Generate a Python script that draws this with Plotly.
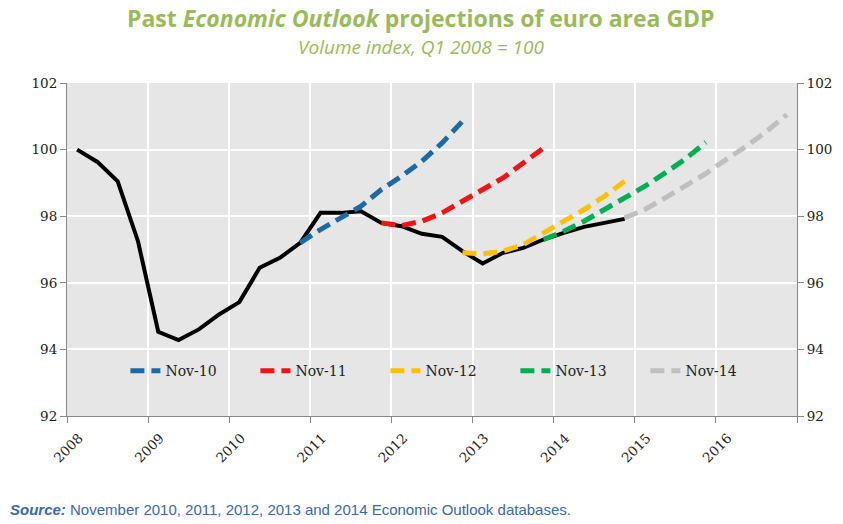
import plotly.graph_objects as go

# Quarterly positions: Q1 2008 ... Q4 2016 (plotted at mid-quarter)
quarters = [f"{y}Q{q}" for y in range(2008, 2017) for q in range(1, 5)]

def qpos(label):
    y, q = label.split("Q")
    return int(y) + (int(q) - 0.5) / 4

# Actual euro area GDP (Q1 2008 = 100), Q1 2008 .. Q4 2014
actual = [100.0, 99.63, 99.05, 97.25,
          94.53, 94.28, 94.6, 95.05,
          95.42, 96.45, 96.75, 97.2,
          98.1, 98.1, 98.15, 97.8,
          97.7, 97.47, 97.38, 96.95,
          96.58, 96.9, 97.05, 97.3,
          97.5, 97.68, 97.8, 97.92]

# Projections: start quarter and values
nov10_start, nov10 = "2010Q4", [97.2, 97.6, 97.95, 98.3, 98.8, 99.2, 99.65, 100.2, 100.85]
nov11_start, nov11 = "2011Q4", [97.8, 97.72, 97.85, 98.1, 98.45, 98.8, 99.15, 99.6, 100.05]
nov12_start, nov12 = "2012Q4", [96.9, 96.87, 96.95, 97.15, 97.5, 97.85, 98.2, 98.6, 99.05]
nov13_start, nov13 = "2013Q4", [97.3, 97.55, 97.85, 98.2, 98.55, 98.9, 99.3, 99.72, 100.22]
nov14_start, nov14 = "2014Q4", [97.95, 98.2, 98.55, 98.92, 99.28, 99.7, 100.1, 100.55, 101.05]

series = [
    ("Nov-10", nov10_start, nov10, "#1A6AA6"),
    ("Nov-11", nov11_start, nov11, "#F01414"),
    ("Nov-12", nov12_start, nov12, "#FFC000"),
    ("Nov-13", nov13_start, nov13, "#00B050"),
    ("Nov-14", nov14_start, nov14, "#BFBFBF"),
]

year_ticks = list(range(2008, 2018))
year_labels = [str(y) for y in range(2008, 2017)] + [""]
y_ticks = [92, 94, 96, 98, 100, 102]

fig = go.Figure()

fig.add_trace(go.Scatter(
    x=[qpos(q) for q in quarters[:len(actual)]], y=actual,
    mode="lines", line=dict(color="black", width=4),
    showlegend=False, hoverinfo="skip"))

for name, start, vals, color in series:
    i0 = quarters.index(start)
    xs = [qpos(q) for q in quarters[i0:i0 + len(vals)]]
    fig.add_trace(go.Scatter(
        x=xs, y=vals, mode="lines", name=name,
        line=dict(color=color, width=5, dash="14px,7px"),
        hoverinfo="skip"))

# invisible trace to activate right-hand axis
fig.add_trace(go.Scatter(x=[2008], y=[92], yaxis="y2", mode="markers",
                         marker=dict(opacity=0), showlegend=False, hoverinfo="skip"))

tick_font = dict(family="DejaVu Serif", size=13.5, color="#222")

fig.update_layout(
    width=843, height=524,
    margin=dict(l=67, r=46, t=83, b=108),
    paper_bgcolor="white", plot_bgcolor="#E6E6E6",
    xaxis=dict(range=[2008, 2017], tickvals=year_ticks, ticktext=year_labels,
               tickangle=-45, showgrid=True, gridcolor="white", gridwidth=1.5,
               showline=True, linecolor="#888", linewidth=1,
               ticks="outside", ticklen=6, tickcolor="#888",
               ticklabelshift=12, ticklabelstandoff=2,
               tickfont=tick_font, zeroline=False, fixedrange=True),
    yaxis=dict(range=[92, 102], tickvals=y_ticks, showgrid=True, gridcolor="white",
               gridwidth=1.5, showline=True, linecolor="#888", linewidth=1,
               ticks="outside", ticklen=6, tickcolor="#888",
               tickfont=tick_font, zeroline=False, fixedrange=True),
    yaxis2=dict(range=[92, 102], tickvals=y_ticks, overlaying="y", side="right",
                showgrid=False, showline=True, linecolor="#888", linewidth=1,
                ticks="outside", ticklen=6, tickcolor="#888",
                tickfont=tick_font, zeroline=False, fixedrange=True),
    legend=dict(orientation="h", x=0.08, y=0.135, xanchor="left", yanchor="middle",
                bgcolor="rgba(0,0,0,0)", font=dict(family="DejaVu Serif", size=14, color="#222"),
                entrywidth=85, entrywidthmode="pixels", itemwidth=30),
    annotations=[
        dict(text="Past <i>Economic Outlook</i> projections of euro area GDP",
             x=0.485, y=1.195, xref="paper", yref="paper", xanchor="center", yanchor="middle",
             showarrow=False, font=dict(family="Open Sans", size=23, color="#9BBB59", weight="bold")),
        dict(text="<i>Volume index, Q1 2008 = 100</i>",
             x=0.485, y=1.108, xref="paper", yref="paper", xanchor="center", yanchor="middle",
             showarrow=False, font=dict(family="Open Sans", size=19, color="#9BBB59")),
        dict(text="<b><i>Source:</i></b> November 2010, 2011, 2012, 2013 and 2014 Economic Outlook databases.",
             x=-0.081, y=-0.282, xref="paper", yref="paper", xanchor="left", yanchor="middle",
             showarrow=False, font=dict(family="Liberation Sans", size=15, color="#3A68B5")),
    ],
)

fig.write_html("out.html", config={"displayModeBar": False},
               post_script="document.body.style.margin='0';document.body.style.padding='0';")
